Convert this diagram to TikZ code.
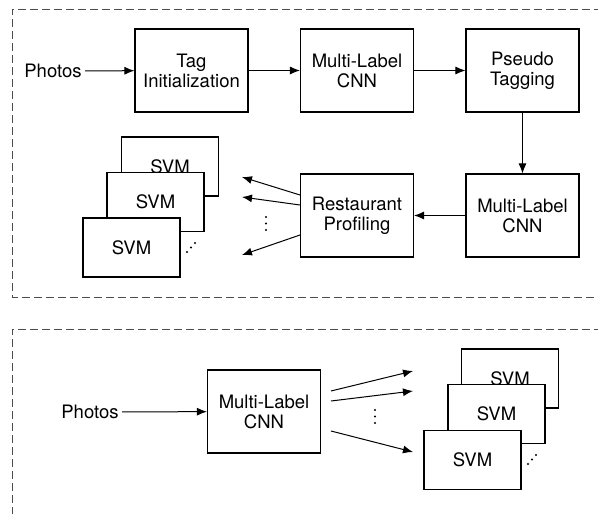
\documentclass[tikz,border=0pt]{standalone}
\usepackage{fontspec}
\setmainfont{TeX Gyre Heros}
\usetikzlibrary{arrows.meta}

\begin{document}
\begin{tikzpicture}[
  x=1pt, y=-1pt,
  every node/.style={font=\fontsize{18.5}{20}\selectfont},
  box/.style={draw, line width=1.1pt, fill=white, minimum width=113pt, minimum height=83pt, align=center, inner sep=0pt},
  svmbox/.style={draw, line width=1.1pt, fill=white, minimum width=97pt, minimum height=59pt, inner sep=0pt},
  flow/.style={-{Latex[length=10pt,width=8pt]}, line width=1pt},
  frame/.style={draw=black!70, dashed, dash pattern=on 8pt off 4pt, line width=1pt}
]
\useasboundingbox (0,0) rectangle (598,514);

% dashed frames
\draw[frame] (602,9) -- (12,9) -- (12,297) -- (602,297);
\draw[frame] (602,329) -- (12,329) -- (12,520);

% top part
\node (photos1) at (53,71) {Photos};
\node[box] (tag) at (191.5,70.5) {Tag\\Initialization};
\node[box] (cnn1) at (357,70.5) {Multi-Label\\CNN};
\node[box] (pseudo) at (522.5,70.5) {Pseudo\\Tagging};
\node[box] (cnn2) at (522.5,215.5) {Multi-Label\\CNN};
\node[box] (rp) at (357,215.5) {Restaurant\\Profiling};

\draw[flow] (photos1) -- (tag);
\draw[flow] (tag) -- (cnn1);
\draw[flow] (cnn1) -- (pseudo);
\draw[flow] (pseudo) -- (cnn2);
\draw[flow] (cnn2) -- (rp);

\node[svmbox] (svma) at (170,166.5) {SVM};
\node[svmbox] (svmb) at (155.5,202) {SVM};
\node[svmbox] (svmc) at (131.5,247.5) {SVM};

\coordinate (ra) at (300,195);
\coordinate (rb) at (300,205);
\coordinate (rc) at (300,235);
\coordinate (ta) at (242,177);
\coordinate (tb) at (242,197);
\coordinate (tc) at (242,255);
\draw[flow] (ra) -- (ta);
\draw[flow] (rb) -- (tb);
\draw[flow] (rc) -- (tc);
\foreach \y in {217,223.5,230} \fill (266,\y) circle (1.2pt);
\foreach \x/\y in {187/252,191/247.5,195/243} \fill (\x,\y) circle (1.2pt);

% bottom part
\node (photos2) at (90,412) {Photos};
\node[box] (cnn3) at (264,411.5) {Multi-Label\\CNN};
\draw[flow] (photos2) -- (cnn3);

\node[svmbox] (svmd) at (510,378.5) {SVM};
\node[svmbox] (svme) at (496.5,414) {SVM};
\node[svmbox] (svmf) at (472.5,460) {SVM};

\coordinate (sa) at (331,391);
\coordinate (sb) at (331,401);
\coordinate (sc) at (331,431);
\coordinate (ea) at (413,371);
\coordinate (eb) at (413,391);
\coordinate (ec) at (413,452);
\draw[flow] (sa) -- (ea);
\draw[flow] (sb) -- (eb);
\draw[flow] (sc) -- (ec);
\foreach \y in {410,416.5,423} \fill (375,\y) circle (1.2pt);
\foreach \x/\y in {528/464,532/459.5,536/455} \fill (\x,\y) circle (1.2pt);
\end{tikzpicture}
\end{document}
